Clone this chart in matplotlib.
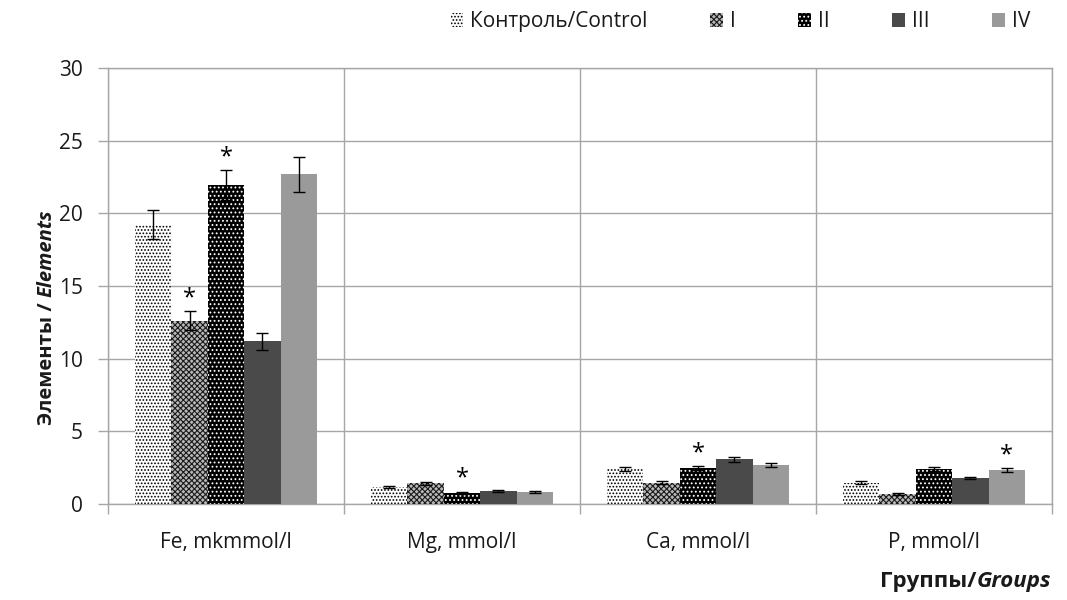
import numpy as np
import matplotlib
matplotlib.use("Agg")
import matplotlib.pyplot as plt
from matplotlib.patches import Patch

plt.rcParams['font.family'] = ['Open Sans', 'DejaVu Sans']
plt.rcParams['hatch.linewidth'] = 0.8

# categories and groups
categories = ["Fe, mkmmol/l", "Mg, mmol/l", "Ca, mmol/l", "P, mmol/l"]
groups = ["Контроль/Control", "I", "II", "III", "IV"]

# mean values per group (one value per category)
control = [19.2, 1.19, 2.40, 1.47]
grp_1 = [12.6, 1.42, 1.47, 0.69]
grp_2 = [21.95, 0.78, 2.46, 2.39]
grp_3 = [11.2, 0.87, 3.08, 1.79]
grp_4 = [22.7, 0.80, 2.66, 2.32]

# error bar half-widths
err_control = [1.0, 0.08, 0.14, 0.12]
err_1 = [0.65, 0.08, 0.10, 0.07]
err_2 = [1.05, 0.08, 0.15, 0.14]
err_3 = [0.6, 0.06, 0.16, 0.09]
err_4 = [1.2, 0.07, 0.14, 0.14]

# significance marks: (category index, group index)
stars = [(0, 1), (0, 2), (1, 2), (2, 2), (3, 4)]

values = [control, grp_1, grp_2, grp_3, grp_4]
errors = [err_control, err_1, err_2, err_3, err_4]

# styles: face colour, hatch colour, hatch pattern
styles = [
    ("white", "black", "....."),
    ("#b8b8b8", "#1a1a1a", "xxxxxx"),
    ("black", "white", "...."),
    ("#4a4a4a", "#4a4a4a", None),
    ("#9a9a9a", "#9a9a9a", None),
]

fig = plt.figure(figsize=(10.67, 6.0), dpi=100)
ax = fig.add_axes([108 / 1067, 1 - 504 / 600, 944 / 1067, 436 / 600])

n = len(groups)
width = 0.154
x = np.arange(len(categories))
for i, (vals, errs, (fc, hc, hatch)) in enumerate(zip(values, errors, styles)):
    pos = x + (i - (n - 1) / 2) * width
    ax.bar(pos, vals, width, color=fc, edgecolor=hc, hatch=hatch, linewidth=0,
           zorder=3)
    ax.errorbar(pos, vals, yerr=errs, fmt="none", ecolor="black", elinewidth=1,
                capsize=4, capthick=1, zorder=4)

for ci, gi in stars:
    pos = x[ci] + (gi - (n - 1) / 2) * width
    top = values[gi][ci] + errors[gi][ci]
    ax.text(pos, top + 0.05, "*", ha="center", va="bottom", fontsize=17,
            zorder=5)

gcol = "#a6a6a6"
tcol = "#1a1a1a"
ax.set_ylim(0, 30)
ax.set_yticks(np.arange(0, 31, 5))
ax.set_xlim(-0.5, len(categories) - 0.5)
ax.set_xticks(np.arange(-0.5, len(categories)), labels=[""] * (len(categories) + 1))
ax.set_xticks(x, labels=categories, minor=True)
ax.tick_params(axis="x", which="major", length=7, color=gcol, width=1)
ax.tick_params(axis="x", which="minor", length=0, pad=20, labelsize=15,
               colors=tcol)
ax.tick_params(axis="y", length=7, color=gcol, width=1, pad=11, labelsize=15,
               colors=tcol)
ax.grid(True, which="major", color=gcol, lw=1, zorder=0)
for s in ax.spines.values():
    s.set_color(gcol)
    s.set_linewidth(1)

# y label, mixed upright / italic
t1 = fig.text(0.044, 0.505, "Элементы / ", rotation=90, ha="center",
              va="top", fontsize=14.5, fontweight="bold", color=tcol)
ax.annotate("Elements", xy=(0.5, 1), xycoords=t1, rotation=90, ha="center",
            va="bottom", fontsize=14.5, fontweight="bold", style="italic",
            color=tcol)

# x label at bottom right
t2 = fig.text(1051 / 1067, 1 - 592 / 600, "Groups", ha="right", va="bottom",
              fontsize=16, fontweight="bold", style="italic", color=tcol)
ax.annotate("Группы/", xy=(0, 0), xycoords=t2, ha="right", va="bottom",
            fontsize=16, fontweight="bold", color=tcol)

handles = [Patch(facecolor=fc, edgecolor=hc, hatch=hatch, linewidth=0)
           for fc, hc, hatch in styles]
fig.legend(handles, groups, loc="upper right", bbox_to_anchor=(1042 / 1067, 1.0),
           ncol=5, frameon=False, fontsize=15, handlelength=0.6,
           handleheight=0.7, handletextpad=0.35, columnspacing=3.0,
           borderaxespad=0.15, labelcolor=tcol)

fig.savefig("out.png", dpi=100)
